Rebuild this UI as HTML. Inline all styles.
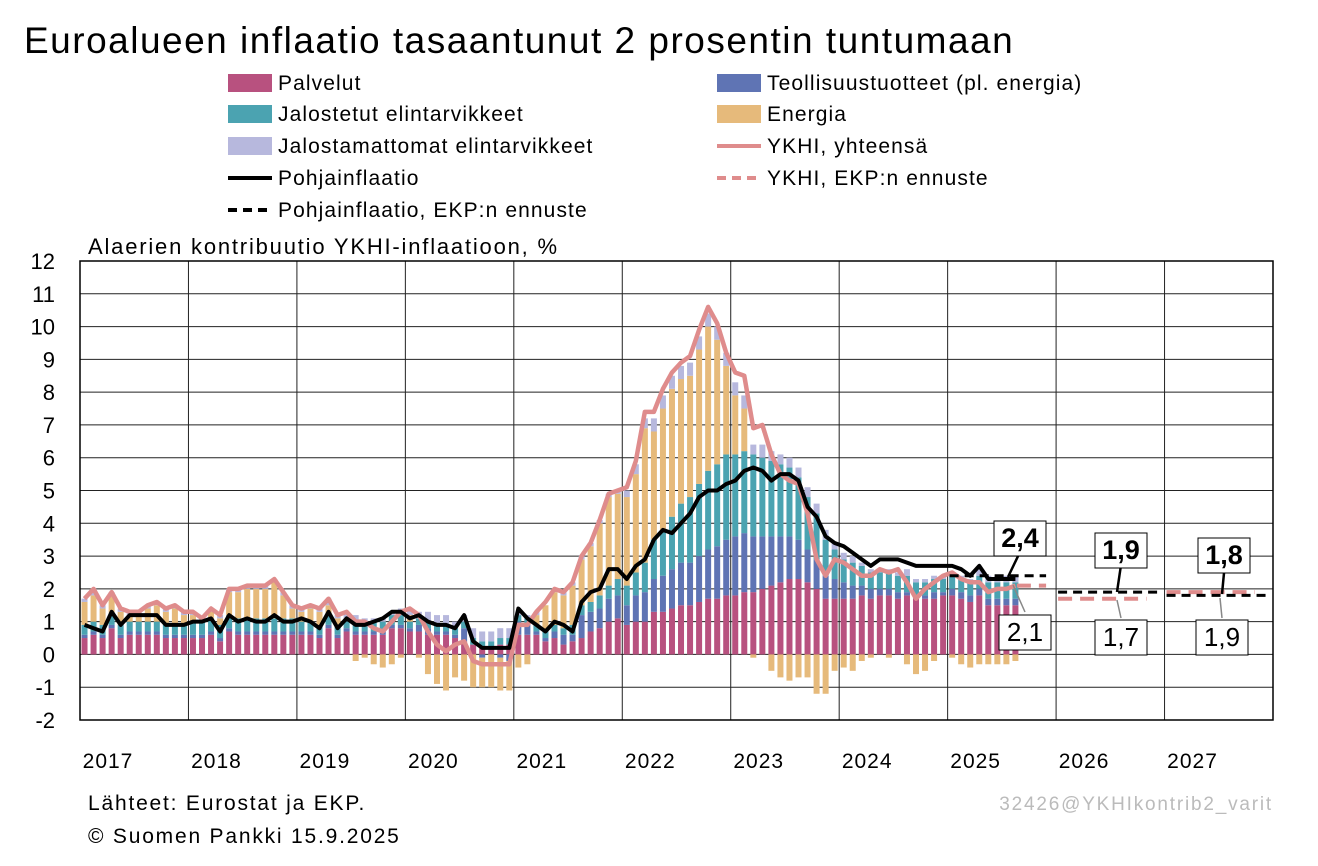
<!DOCTYPE html>
<html><head><meta charset="utf-8">
<style>
body{margin:0;background:#fff;font-family:"Liberation Sans",sans-serif;}
svg text{font-family:"Liberation Sans",sans-serif;}
</style></head>
<body>
<svg id="chart" width="1318" height="861" xmlns="http://www.w3.org/2000/svg">
<text x="24" y="53" font-size="37" letter-spacing="1.5" fill="#000">Euroalueen inflaatio tasaantunut 2 prosentin tuntumaan</text>
<g id="legend"></g>
<text x="88" y="254" font-size="22" letter-spacing="1.8">Alaerien kontribuutio YKHI-inflaatioon, %</text>
<g id="grid"></g><g id="bars"></g><g id="lines"></g><g id="labels"></g>
<text x="88" y="810" font-size="21" letter-spacing="1.8">Lähteet: Eurostat ja EKP.</text>
<text x="88" y="843" font-size="21" letter-spacing="1.8">© Suomen Pankki 15.9.2025</text>
<text x="1273" y="810" font-size="19" letter-spacing="1.8" fill="#bbb" text-anchor="end">32426@YKHIkontrib2_varit</text>
</svg>
<script>
const years=["2017","2018","2019","2020","2021","2022","2023","2024","2025","2026","2027"];
const yTicks=[-2,-1,0,1,2,3,4,5,6,7,8,9,10,11,12];
const services=[.5,.6,.5,.8,.5,.6,.6,.6,.6,.5,.5,.5, .5,.5,.6,.4,.7,.6,.6,.6,.6,.6,.6,.6, .6,.6,.5,.8,.5,.7,.6,.6,.6,.6,.8,.8, .7,.7,.6,.6,.6,.5,.4,.3,.2,.2,.3,.3, .6,.6,.6,.4,.5,.3,.4,.5,.7,.8,1.0,1.1, .9,1.0,1.0,1.3,1.3,1.4,1.5,1.5,1.6,1.7,1.7,1.8, 1.8,1.9,1.9,2.0,2.1,2.2,2.3,2.3,2.2,2.0,1.7,1.7, 1.7,1.7,1.8,1.7,1.8,1.8,1.7,1.8,1.7,1.7,1.7,1.8, 1.8,1.7,1.6,1.8,1.5,1.5,1.5,1.5];
const goods=[.1,.1,.1,.1,.1,.1,.1,.1,.1,.1,.1,.1, .1,.1,.1,.1,.1,.1,.1,.1,.1,.1,.1,.1, .1,.1,.1,.1,.1,.1,.1,.1,.1,.1,.1,.1, .1,.2,.2,.1,.1,.1,.4,0,-.1,0,-.1,-.2, .4,.3,.1,.1,.2,.3,.2,.7,.6,.6,.7,.7, .6,.8,.9,1.0,1.1,1.2,1.3,1.3,1.4,1.5,1.6,1.7, 1.8,1.8,1.7,1.6,1.5,1.4,1.3,1.2,1.0,.9,.7,.6, .5,.4,.3,.3,.2,.2,.2,.1,.1,.1,.2,.1, .2,.2,.2,.2,.2,.2,.2,.2];
const processedFood=[.3,.3,.3,.3,.3,.3,.3,.3,.3,.3,.3,.3, .4,.4,.4,.4,.4,.4,.4,.4,.4,.4,.4,.4, .3,.3,.3,.3,.3,.3,.3,.3,.3,.3,.3,.3, .2,.2,.2,.2,.2,.2,.2,.2,.2,.2,.2,.2, .2,.2,.2,.2,.2,.2,.3,.3,.3,.4,.4,.5, .6,.7,.9,1.2,1.4,1.6,1.8,2.0,2.2,2.4,2.5,2.6, 2.5,2.5,2.5,2.4,2.3,2.2,2.1,1.9,1.6,1.4,1.1,.9, .7,.7,.6,.5,.5,.5,.5,.5,.4,.4,.4,.4, .4,.4,.4,.4,.5,.5,.5,.5];
const energy=[.7,.8,.5,.6,.4,.2,.2,.4,.5,.4,.5,.3, .2,0,.2,.2,.7,.8,.9,.9,.9,1.1,.7,.3, .3,.4,.4,.3,.2,0,-.2,-.1,-.3,-.4,-.3,-.1, .2,-.1,-.6,-.9,-1.1,-.7,-.8,-1.0,-.9,-1.0,-1.0,-.9, -.4,-.3,.3,.8,1.0,1.0,1.2,1.4,1.7,2.2,2.7,2.6, 2.7,3.0,4.1,3.3,3.7,3.9,3.8,3.7,4.1,4.4,3.8,2.7, 1.8,1.3,-.1,0,-.5,-.7,-.8,-.7,-.7,-1.2,-1.2,-.5, -.4,-.5,-.2,-.1,0,-.1,0,-.3,-.6,-.5,-.2,0, -.1,-.3,-.4,-.3,-.3,-.3,-.3,-.2];
const unprocessedFood=[.1,.2,.1,.1,.1,.1,.1,.1,.1,.1,.1,.1, .1,.1,.1,.1,.1,.1,.1,.1,.1,.1,.1,.1, .1,.1,.1,.2,.1,.2,.2,.1,.1,.1,.1,.2, .2,.2,.3,.3,.3,.2,.2,.3,.3,.3,.3,.3, .1,.1,.1,0,.1,.1,.1,.1,.1,.1,.1,.1, .2,.3,.3,.4,.4,.4,.4,.4,.4,.4,.4,.4, .4,.4,.3,.4,.3,.3,.3,.3,.3,.3,.3,.2, .2,.2,.1,.1,.1,.1,.1,.2,.1,.1,.1,.1, .1,.1,.1,.2,.2,.2,.2,.2];
const headline=[1.7,2.0,1.5,1.9,1.4,1.3,1.3,1.5,1.6,1.4,1.5,1.3, 1.3,1.1,1.4,1.2,2.0,2.0,2.1,2.1,2.1,2.3,1.9,1.5, 1.4,1.5,1.4,1.7,1.2,1.3,1.0,1.0,0.8,0.7,1.0,1.3, 1.4,1.2,0.7,0.3,0.1,0.3,0.4,-0.2,-0.3,-0.3,-0.3,-0.3, 0.9,0.9,1.3,1.6,2.0,1.9,2.2,3.0,3.4,4.1,4.9,5.0, 5.1,5.9,7.4,7.4,8.1,8.6,8.9,9.1,9.9,10.6,10.1,9.2, 8.6,8.5,6.9,7.0,6.1,5.5,5.3,5.2,4.3,2.9,2.4,2.9, 2.8,2.6,2.4,2.4,2.6,2.5,2.6,2.2,1.7,2.0,2.2,2.4, 2.5,2.3,2.2,2.2,1.9,2.0,2.0,2.1];
const core=[0.9,0.8,0.7,1.3,0.9,1.2,1.2,1.2,1.2,0.9,0.9,0.9, 1.0,1.0,1.1,0.7,1.2,1.0,1.1,1.0,1.0,1.2,1.0,1.0, 1.1,1.0,0.8,1.3,0.8,1.1,0.9,0.9,1.0,1.1,1.3,1.3, 1.1,1.2,1.0,0.9,0.9,0.8,1.2,0.4,0.2,0.2,0.2,0.2, 1.4,1.1,0.9,0.7,1.0,0.9,0.7,1.6,1.9,2.0,2.6,2.6, 2.3,2.7,2.9,3.5,3.8,3.7,4.0,4.3,4.8,5.0,5.0,5.2, 5.3,5.6,5.7,5.6,5.3,5.5,5.5,5.3,4.5,4.2,3.6,3.4, 3.3,3.1,2.9,2.7,2.9,2.9,2.9,2.8,2.7,2.7,2.7,2.7, 2.7,2.6,2.4,2.7,2.3,2.3,2.3,2.3];
const fcYears=[2025.62,2026,2027];
const fcHeadline=[2.1,1.7,1.9];
const fcCore=[2.4,1.9,1.8];

const NS="http://www.w3.org/2000/svg";
const X0=80,X1=1273,Y0=261,Y1=720;
const yearW=(X1-X0)/years.length, monthW=yearW/12;
const y=v=>Y1-(v-yTicks[0])*(Y1-Y0)/(yTicks[yTicks.length-1]-yTicks[0]);
const xm=i=>X0+(i+0.5)*monthW;
const xy=t=>X0+(t-2017)*yearW;
function mk(tag,attrs,parent){const e=document.createElementNS(NS,tag);for(const k in attrs)e.setAttribute(k,attrs[k]);document.getElementById(parent).appendChild(e);return e;}

yTicks.forEach(v=>{
  const l=mk('line',{x1:X0,x2:X1,y1:y(v),y2:y(v),stroke:'#222','stroke-width':1},'grid');
  
  
  const t=mk('text',{x:55,y:y(v)+8,'font-size':22,'text-anchor':'end'},'grid');t.textContent=v;
  
  
});
years.forEach((yr,k)=>{
  const l=mk('line',{x1:X0+k*yearW,x2:X0+k*yearW,y1:Y0,y2:Y1,stroke:'#222','stroke-width':1},'grid');
  
  
  const t=mk('text',{x:X0+k*yearW+28,y:768,'font-size':21,'letter-spacing':1,'text-anchor':'middle'},'grid');t.textContent=yr;
  
  
});
const fr=mk('rect',{x:X0,y:Y0,width:X1-X0,height:Y1-Y0,fill:'none',stroke:'#000','stroke-width':1.5},'grid');



const series=[[services,'#b8517f','services'],[goods,'#5f74b4','industrial-goods'],[processedFood,'#4ba3b1','processed-food'],[energy,'#e6ba7b','energy'],[unprocessedFood,'#b7b8dd','unprocessed-food']];
const bw=6;
for(let i=0;i<headline.length;i++){
  let pos=0,neg=0;
  series.forEach(([arr,col,name])=>{
    const v=arr[i];if(!v)return;
    let a,b;
    if(v>0){a=pos;b=pos+v;pos=b;}else{a=neg;b=neg+v;neg=b;}
    const r=mk('rect',{x:xm(i)-bw/2,y:Math.min(y(a),y(b)),width:bw,height:Math.abs(y(a)-y(b)),fill:col},'bars');
    
    
  });
}
function pl(arr,col,w,name){
  const p=mk('polyline',{points:arr.map((v,i)=>xm(i)+','+y(v)).join(' '),fill:'none',stroke:col,'stroke-width':w,'stroke-linejoin':'round'},'lines');
  
  
}
pl(headline,'#df8c8c',4.5,'hicp-line');
pl(core,'#000',4,'core-line');
const fcEnd=[2026,2027,2028];
fcYears.forEach((t,k)=>{
  const x1=xy(t)+2, x2=xy(fcEnd[k])-(k==0?10:4);
  const a=mk('line',{x1:x1,x2:x2-(k==0?0:14),y1:y(fcHeadline[k]),y2:y(fcHeadline[k]),stroke:'#df8c8c','stroke-width':4,'stroke-dasharray':'14,8'},'lines');
  
  
  const b=mk('line',{x1:k==0?xy(2025)+2:x1,x2:x2,y1:y(fcCore[k]),y2:y(fcCore[k]),stroke:'#000','stroke-width':3,'stroke-dasharray':'9,6'},'lines');
  
  
});
const lab=[[fcCore[0],1020,538,true,[1008,577,1020,552]],[fcHeadline[0],1025,632,false,[1013,585,1025,612]],
[fcCore[1],1121,550,true,[1117,592,1121,565]],[fcHeadline[1],1121,637,false,[1117,600,1121,618]],
[fcCore[2],1224,555,true,[1222,594,1224,573]],[fcHeadline[2],1222,637,false,[1220,598,1222,618]]];
lab.forEach(([v,cx,cy,bold,ln])=>{
  const l=mk('line',{x1:ln[0],y1:ln[1],x2:ln[2],y2:ln[3],stroke:bold?'#000':'#888','stroke-width':bold?2.5:1.5},'labels');
  
  
  const r=mk('rect',{x:cx-26,y:cy-17,width:52,height:35,fill:'#fff',stroke:'#000','stroke-width':1},'labels');
  
  
  const t=mk('text',{x:cx,y:cy+9,'font-size':bold?27:26,'font-weight':bold?'bold':'normal','text-anchor':'middle'},'labels');
  t.textContent=v.toFixed(1).replace('.',',');
  
  
});
const leg=[[228,83,'rect','#b8517f','Palvelut'],[717,83,'rect','#5f74b4','Teollisuustuotteet (pl. energia)'],
[228,114,'rect','#4ba3b1','Jalostetut elintarvikkeet'],[717,114,'rect','#e6ba7b','Energia'],
[228,146,'rect','#b7b8dd','Jalostamattomat elintarvikkeet'],[717,146,'line','#df8c8c','YKHI, yhteensä'],
[228,178,'line','#000','Pohjainflaatio'],[717,178,'dash','#df8c8c','YKHI, EKP:n ennuste'],
[228,210,'dash','#000','Pohjainflaatio, EKP:n ennuste']];
leg.forEach(([x,yy,kind,col,txt])=>{
  let s;
  if(kind=='rect')s=mk('rect',{x:x,y:yy-9,width:44,height:18,fill:col},'legend');
  else s=mk('line',{x1:x,x2:x+44,y1:yy,y2:yy,stroke:col,'stroke-width':4,'stroke-dasharray':kind=='dash'?'9,6':'none'},'legend');
  
  
  const t=mk('text',{x:x+50,y:yy+7,'font-size':21,'letter-spacing':1.1},'legend');t.textContent=txt;
  
  
});
</script>
</body></html>
